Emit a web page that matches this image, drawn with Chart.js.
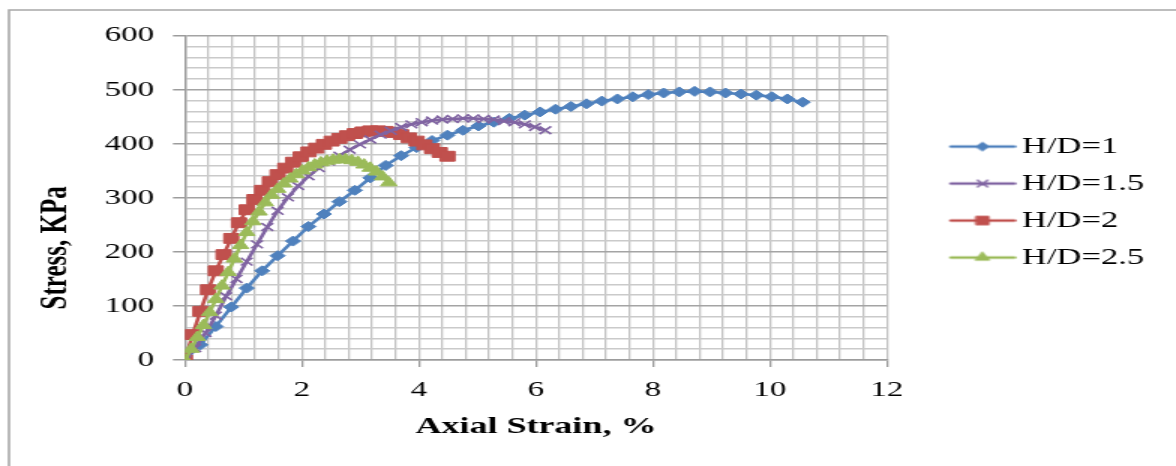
<!DOCTYPE html>
<html><head><meta charset="utf-8">
<script src="https://cdn.jsdelivr.net/npm/chart.js@4/dist/chart.umd.min.js"></script>
<style>
html,body{margin:0;padding:0;background:#fff;overflow:hidden;width:1176px;height:466px;}
#wrap{position:absolute;left:0;top:0;width:784px;height:466px;transform:scaleX(1.5);transform-origin:0 0;}
</style></head><body>
<div id="wrap"><canvas id="c" width="784" height="466"></canvas></div>
<script>
const seriesLabels = ['H/D=1', 'H/D=1.5', 'H/D=2', 'H/D=2.5'];
const seriesColors = ['#4f81bd', '#8064a2', '#c0504d', '#9bbb59'];
const drawOrder = [3, 1, 2, 0]; // lower = drawn on top

const strainHD1 = [0, 0.264, 0.528, 0.792, 1.056, 1.32, 1.584, 1.848, 2.112, 2.376, 2.64, 2.904, 3.168, 3.432, 3.696, 3.96, 4.224, 4.488, 4.752, 5.016, 5.28, 5.544, 5.808, 6.072, 6.336, 6.6, 6.864, 7.128, 7.392, 7.656, 7.92, 8.184, 8.448, 8.712, 8.976, 9.24, 9.504, 9.768, 10.032, 10.296, 10.56];
const stressHD1 = [0, 28, 62, 98, 133, 165, 193, 220, 247, 270, 293, 314, 337, 360, 378, 393, 406, 416, 425, 433, 440, 447, 453, 459, 464, 469, 474, 479, 483, 487, 491, 494, 496, 497, 496, 494, 492, 490, 487, 483, 477];

const strainHD15 = [0, 0.176, 0.352, 0.528, 0.704, 0.88, 1.056, 1.232, 1.408, 1.584, 1.76, 1.936, 2.112, 2.288, 2.464, 2.64, 2.816, 2.992, 3.168, 3.344, 3.52, 3.696, 3.872, 4.048, 4.224, 4.4, 4.576, 4.752, 4.928, 5.104, 5.28, 5.456, 5.632, 5.808, 5.984, 6.16];
const stressHD15 = [0, 22, 50, 82, 118, 150, 182, 214, 246, 276, 301, 322, 340, 355, 367, 378, 389, 399, 408, 417, 424, 431, 436, 440, 443, 445, 446, 447, 447, 446, 445, 442, 440, 436, 431, 425];

const strainHD2 = [0, 0.132, 0.264, 0.396, 0.528, 0.66, 0.792, 0.924, 1.056, 1.188, 1.32, 1.452, 1.584, 1.716, 1.848, 1.98, 2.112, 2.244, 2.376, 2.508, 2.64, 2.772, 2.904, 3.036, 3.168, 3.3, 3.432, 3.564, 3.696, 3.828, 3.96, 4.092, 4.224, 4.356, 4.488];
const stressHD2 = [0, 47, 90, 130, 165, 195, 225, 254, 278, 297, 314, 330, 343, 355, 366, 376, 385, 392, 399, 405, 410, 415, 419, 422, 424, 424, 423, 421, 417, 411, 405, 398, 391, 384, 377];

const strainHD25 = [0, 0.106, 0.211, 0.317, 0.422, 0.528, 0.634, 0.739, 0.845, 0.95, 1.056, 1.162, 1.267, 1.373, 1.478, 1.584, 1.69, 1.795, 1.9, 2.006, 2.112, 2.218, 2.323, 2.429, 2.534, 2.64, 2.746, 2.851, 2.957, 3.062, 3.168, 3.274, 3.379, 3.485];
const stressHD25 = [0, 20, 42, 64, 88, 112, 137, 162, 187, 212, 236, 256, 274, 291, 305, 316, 326, 335, 343, 350, 356, 361, 365, 368, 370, 371, 371, 369, 366, 361, 355, 348, 339, 328];

const xTickLabels = [0, 2, 4, 6, 8, 10, 12];
const yTickLabels = [0, 100, 200, 300, 400, 500, 600];
const xTitle = 'Axial Strain, %';
const yTitle = 'Stress, KPa';

const markerStyles = [
  {pointStyle: 'rectRot', radius: 5, borderWidth: 1},
  {pointStyle: 'crossRot', radius: 5.5, borderWidth: 1.6},
  {pointStyle: 'rect', radius: 7, borderWidth: 1},
  {pointStyle: 'triangle', radius: 6.3, borderWidth: 1}
];

const SERIF = "'Liberation Serif', 'Times New Roman', serif";
const LEGEND_FONT = 23, LEGEND_PAD = 14, LEGEND_BOX = 64.5;
const PLOT_RIGHT = 591.3, CANVAS_W = 784;

function pairs(xs, ys) { return xs.map((x, i) => ({x: x, y: ys[i]})); }
const seriesData = [pairs(strainHD1, stressHD1), pairs(strainHD15, stressHD15), pairs(strainHD2, stressHD2), pairs(strainHD25, stressHD25)];

function isOn(v, list) { return list.some(t => Math.abs(t - v) < 1e-6); }

// measure legend text so the legend box (and thus the plot's right edge) lands where intended
const mctx = document.createElement('canvas').getContext('2d');
mctx.font = LEGEND_FONT + 'px ' + SERIF;
const maxTextW = Math.max(...seriesLabels.map(s => mctx.measureText(s).width));
const legendW = LEGEND_PAD + LEGEND_BOX + LEGEND_FONT / 2 + maxTextW + 10;
const padRight = CANVAS_W - PLOT_RIGHT - legendW;

function makeIcon(color, m) {
  const cv = document.createElement('canvas');
  cv.width = 80; cv.height = 20;
  const c = cv.getContext('2d');
  c.strokeStyle = color; c.fillStyle = color;
  c.lineWidth = 2.6; c.lineCap = 'round';
  c.beginPath(); c.moveTo(36.5, 10); c.lineTo(78.5, 10); c.stroke();
  c.lineWidth = m.borderWidth;
  if (Chart.helpers && Chart.helpers.drawPoint) {
    Chart.helpers.drawPoint(c, {pointStyle: m.pointStyle, radius: m.radius * 0.85, rotation: 0, borderWidth: m.borderWidth}, 57.5, 10);
  }
  return cv;
}
const legendIcons = seriesColors.map((col, i) => makeIcon(col, markerStyles[i]));

const framePlugin = {
  id: 'frame',
  beforeDraw(chart) {
    const ctx = chart.ctx;
    ctx.save();
    ctx.strokeStyle = '#a8a8a8';
    ctx.lineWidth = 1.6;
    ctx.beginPath();
    ctx.moveTo(6, 480); ctx.lineTo(6, 10); ctx.lineTo(800, 10);
    ctx.stroke();
    ctx.restore();
  }
};

const datasets = seriesLabels.map((lab, i) => ({
  label: lab,
  data: seriesData[i],
  order: drawOrder[i],
  showLine: true,
  borderColor: seriesColors[i],
  backgroundColor: seriesColors[i],
  borderWidth: 2.6,
  tension: 0,
  pointStyle: markerStyles[i].pointStyle,
  pointRadius: markerStyles[i].radius,
  pointBorderWidth: markerStyles[i].borderWidth,
  pointBackgroundColor: seriesColors[i],
  pointBorderColor: seriesColors[i],
  pointHoverRadius: markerStyles[i].radius
}));

new Chart(document.getElementById('c'), {
  type: 'scatter',
  data: {datasets: datasets},
  plugins: [framePlugin],
  options: {
    responsive: false,
    animation: false,
    devicePixelRatio: 1,
    layout: {padding: {left: 10, top: 35.7, right: padRight, bottom: 24.6}},
    plugins: {
      tooltip: {enabled: false},
      legend: {
        position: 'right',
        align: 'center',
        fullSize: false,
        title: {display: true, text: ' ', padding: 0, font: {size: 7, family: SERIF}},
        labels: {
          usePointStyle: true,
          pointStyleWidth: LEGEND_BOX,
          padding: LEGEND_PAD,
          textAlign: 'left',
          color: '#000',
          font: {family: SERIF, size: LEGEND_FONT},
          sort: (a, b) => a.datasetIndex - b.datasetIndex,
          generateLabels(chart) {
            const items = Chart.defaults.plugins.legend.labels.generateLabels(chart);
            items.forEach((it) => { it.pointStyle = legendIcons[it.datasetIndex]; it.fontColor = '#000'; });
            return items;
          }
        }
      }
    },
    scales: {
      x: {
        type: 'linear',
        min: 0, max: 12,
        afterFit(s) { s.height = 81.4; },
        border: {color: '#9c9c9c', width: 1.4},
        grid: {
          color: '#c2c2c2',
          lineWidth: 1.3,
          tickLength: 7,
          tickColor: (ctx) => (ctx.tick && isOn(ctx.tick.value, xTickLabels)) ? '#9c9c9c' : 'rgba(0,0,0,0)'
        },
        ticks: {
          stepSize: 0.4,
          autoSkip: false,
          maxRotation: 0,
          padding: 10,
          color: '#000',
          font: {family: SERIF, size: 22},
          callback: (v) => isOn(v, xTickLabels) ? String(Math.round(v)) : ''
        },
        title: {
          display: true, text: xTitle, color: '#000',
          padding: {top: 0, bottom: 0},
          font: {family: SERIF, size: 24, weight: 'bold'}
        }
      },
      y: {
        type: 'linear',
        min: 0, max: 600,
        afterFit(s) { s.width = 113.3; },
        border: {color: '#9c9c9c', width: 1.4},
        grid: {
          color: (ctx) => (ctx.tick && isOn(ctx.tick.value, yTickLabels)) ? '#a4a4a4' : '#cacaca',
          lineWidth: 1.5,
          tickLength: 8,
          tickColor: (ctx) => (ctx.tick && isOn(ctx.tick.value, yTickLabels)) ? '#9c9c9c' : 'rgba(0,0,0,0)'
        },
        ticks: {
          stepSize: 20,
          autoSkip: false,
          padding: 12.6,
          color: '#000',
          font: {family: SERIF, size: 22},
          callback: (v) => isOn(v, yTickLabels) ? String(Math.round(v)) : ''
        },
        title: {
          display: true, text: yTitle + '                ', color: '#000',
          padding: {top: 12.6, bottom: 0},
          font: {family: SERIF, size: 25, weight: 'bold'}
        }
      }
    }
  }
});
</script>
</body></html>
